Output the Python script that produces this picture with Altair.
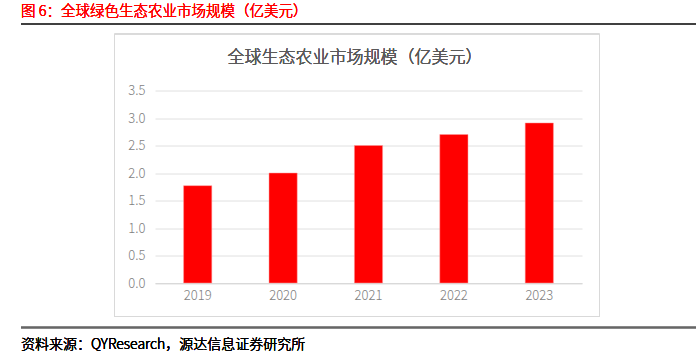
import altair as alt
import pandas as pd

years = ["2019", "2020", "2021", "2022", "2023"]
values = [1.77, 2.0, 2.5, 2.7, 2.91]
y_ticks = [0, 0.5, 1.0, 1.5, 2.0, 2.5, 3.0, 3.5]

header_text = "图 6：全球绿色生态农业市场规模（亿美元）"
inner_title = "全球生态农业市场规模（亿美元）"
source_text = "资料来源：QYResearch，源达信息证券研究所"

df = pd.DataFrame({"year": years, "value": values})

FONT = "Noto Sans CJK SC"
FW_LIGHT = 300
L, T = 155, 90.5
W, H = 427, 192.5

def px(x):
    return x - L

def py(y):
    return y - T

base = alt.Chart(df)

bars = base.mark_bar(color="#FF0000", stroke="#FF9999", strokeWidth=0.5).encode(
    x=alt.X("year:N", sort=years,
            scale=alt.Scale(paddingInner=0.67, paddingOuter=0.335),
            axis=alt.Axis(title=None, labelAngle=0, domain=True, domainColor="#d9d9d9",
                          ticks=False, labelColor="#7f7f7f", labelFontSize=13,
                          labelFont=FONT, labelFontWeight=FW_LIGHT, labelPadding=6)),
    y=alt.Y("value:Q", scale=alt.Scale(domain=[0, 3.5], nice=False),
            axis=alt.Axis(title=None, values=y_ticks, format=".1f", domain=False, ticks=False,
                          gridColor="#e0e0e0", labelColor="#7f7f7f", labelFontSize=13,
                          labelFont=FONT, labelFontWeight=FW_LIGHT, labelPadding=10)),
)

frame = base.mark_rect(fill=None, stroke="#d9d9d9", strokeWidth=1).encode(
    x=alt.value(px(114.5)), x2=alt.value(px(599.5)),
    y=alt.value(py(34)), y2=alt.value(py(316.5)),
)

header = base.mark_text(align="left", baseline="middle", color="#FF0000", fontSize=14.5,
                        font=FONT, fontWeight=FW_LIGHT).encode(
    x=alt.value(px(21)), y=alt.value(py(12)), text=alt.value(header_text))

header_rule = base.mark_rule(color="#404040", strokeWidth=1.5).encode(
    x=alt.value(px(21)), x2=alt.value(px(696)), y=alt.value(py(24)))

title = base.mark_text(align="center", baseline="middle", color="#595959", fontSize=17,
                       font=FONT, fontWeight=FW_LIGHT).encode(
    x=alt.value(px(355)), y=alt.value(py(58)), text=alt.value(inner_title))

bottom_rule = base.mark_rule(color="#666666", strokeWidth=1.5).encode(
    x=alt.value(px(21)), x2=alt.value(px(696)), y=alt.value(py(327.5)))

source = base.mark_text(align="left", baseline="middle", color="#000000", fontSize=14,
                        font=FONT, fontWeight=FW_LIGHT).encode(
    x=alt.value(px(21)), y=alt.value(py(345)), text=alt.value(source_text))

chart = alt.layer(frame, bars, header, header_rule, title, bottom_rule, source).properties(
    width=W, height=H,
    autosize=alt.AutoSizeParams(type="none"),
    padding={"left": L, "top": T, "right": 698 - L - W, "bottom": 351 - T - H},
    background="white",
).configure_view(stroke=None)

chart.save("out.html", embed_options={"renderer": "svg", "actions": False})
